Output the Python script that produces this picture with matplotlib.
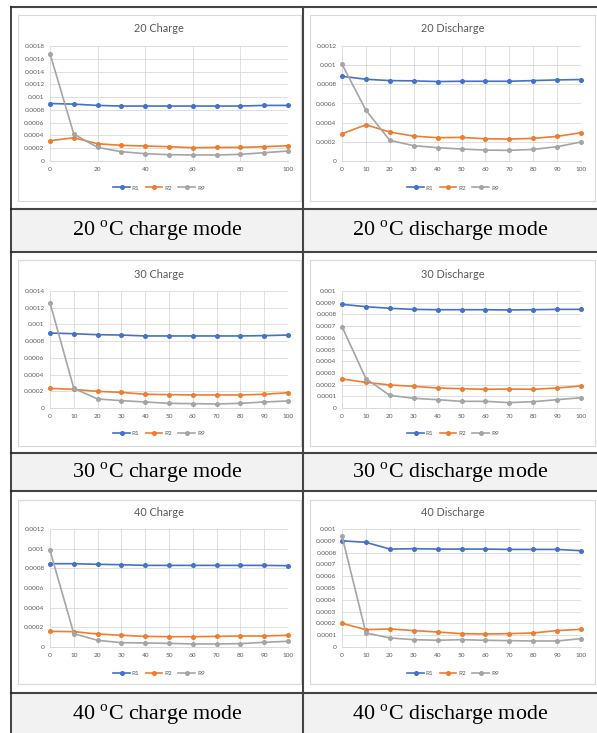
import matplotlib
matplotlib.use('Agg')
import matplotlib.pyplot as plt
from matplotlib.patches import Rectangle
from matplotlib.ticker import MultipleLocator, FuncFormatter

plt.rcParams['font.family'] = ['Lato', 'DejaVu Sans']
plt.rcParams['mathtext.fontset'] = 'custom'
plt.rcParams['mathtext.rm'] = 'Liberation Serif'

W, H = 597, 733

# state of charge (%) on the x axis
soc = [0, 10, 20, 30, 40, 50, 60, 70, 80, 90, 100]

# values, one list per series and panel
r1_20c = [0.00090, 0.00089, 0.00087, 0.00086, 0.00086, 0.00086, 0.00086, 0.00086, 0.00086, 0.00087, 0.00087]
r2_20c = [0.000317, 0.000364, 0.00027, 0.000245, 0.000234, 0.000224, 0.000208, 0.000213, 0.000213, 0.000224, 0.000239]
r9_20c = [0.00168, 0.000421, 0.000213, 0.000146, 0.000114, 0.000099, 0.000094, 0.000094, 0.000104, 0.00013, 0.000156]

r1_20d = [0.000884, 0.000853, 0.000839, 0.000836, 0.000829, 0.000832, 0.000832, 0.000832, 0.000839, 0.000846, 0.00085]
r2_20d = [0.000284, 0.000378, 0.000302, 0.00026, 0.000243, 0.000246, 0.000232, 0.000229, 0.000236, 0.000257, 0.000295]
r9_20d = [0.00101, 0.000531, 0.000215, 0.00016, 0.000139, 0.000125, 0.000114, 0.000111, 0.000121, 0.000149, 0.000198]

r1_30c = [0.000897, 0.000889, 0.000877, 0.000873, 0.000862, 0.000862, 0.000862, 0.000862, 0.000862, 0.000866, 0.000873]
r2_30c = [0.000235, 0.000223, 0.000199, 0.000187, 0.000164, 0.00016, 0.000156, 0.000156, 0.000156, 0.000164, 0.000183]
r9_30c = [0.00126, 0.000235, 0.000108, 0.000088, 0.000072, 0.000056, 0.000052, 0.000048, 0.000056, 0.000072, 0.000084]

r1_30d = [0.000886, 0.000866, 0.000852, 0.000843, 0.00084, 0.00084, 0.00084, 0.000838, 0.00084, 0.000843, 0.000843]
r2_30d = [0.000248, 0.000219, 0.000197, 0.000185, 0.000171, 0.000165, 0.00016, 0.000162, 0.00016, 0.000171, 0.000188]
r9_30d = [0.000695, 0.000251, 0.000108, 0.000083, 0.000071, 0.000057, 0.000057, 0.000046, 0.000054, 0.000071, 0.000088]

r1_40c = [0.000847, 0.000847, 0.000841, 0.000837, 0.00083, 0.00083, 0.00083, 0.00083, 0.00083, 0.00083, 0.000827]
r2_40c = [0.000159, 0.000156, 0.000132, 0.000119, 0.000108, 0.000105, 0.000105, 0.000108, 0.000112, 0.000112, 0.000119]
r9_40c = [0.000983, 0.000136, 0.000068, 0.000044, 0.000041, 0.000037, 0.000031, 0.000031, 0.000034, 0.000048, 0.000058]

r1_40d = [0.0009, 0.000887, 0.00083, 0.000833, 0.00083, 0.00083, 0.00083, 0.000827, 0.000827, 0.000827, 0.000816]
r2_40d = [0.000201, 0.000147, 0.000153, 0.000139, 0.000127, 0.000113, 0.00011, 0.000113, 0.000119, 0.000139, 0.00015]
r9_40d = [0.00094, 0.000119, 0.000077, 0.000062, 0.000057, 0.000062, 0.000057, 0.000054, 0.000051, 0.000051, 0.000071]

titles = ['20 Charge', '20 Discharge', '30 Charge', '30 Discharge', '40 Charge', '40 Discharge']
captions = ['20 $^{\\rm o}$C charge mode', '20 $^{\\rm o}$C discharge mode',
            '30 $^{\\rm o}$C charge mode', '30 $^{\\rm o}$C discharge mode',
            '40 $^{\\rm o}$C charge mode', '40 $^{\\rm o}$C discharge mode']
series = [(r1_20c, r2_20c, r9_20c), (r1_20d, r2_20d, r9_20d),
          (r1_30c, r2_30c, r9_30c), (r1_30d, r2_30d, r9_30d),
          (r1_40c, r2_40c, r9_40c), (r1_40d, r2_40d, r9_40d)]
y_max = [0.0018, 0.0012, 0.0014, 0.001, 0.0012, 0.001]
y_step = [0.0002, 0.0002, 0.0002, 0.0001, 0.0002, 0.0001]
x_step = [20, 10, 10, 10, 10, 10]
names = ['R1', 'R2', 'R9']
colors = ['#4472C4', '#ED7D31', '#A5A5A5']

# ---- layout (pixels) ----
col_plot_x = [(50, 288), (342, 581)]
col_box_x = [(18, 301), (310, 595)]
col_center = [159, 453]
cap_center = [157, 450]
row_plot_y = [(46, 161), (291, 408), (529, 647)]
row_box_y = [(15, 201), (260, 446), (500, 684)]
row_title_y = [29, 274, 513]
row_legend_y = [188, 433, 673]
row_caption_y = [231, 473, 715]
cap_bands = [(209, 252), (453, 491), (693, 740)]

fig = plt.figure(figsize=(W / 100, H / 100), dpi=100)
fig.patch.set_facecolor('white')

# table background + frame
bg = fig.add_axes([0, 0, 1, 1])
bg.set_xlim(0, W)
bg.set_ylim(H, 0)
bg.axis('off')
for y0, y1 in cap_bands:
    bg.add_patch(Rectangle((10.5, y0), W, y1 - y0, facecolor='#f1f2f1', edgecolor='none'))
for r in range(3):
    for c in range(2):
        x0, x1 = col_box_x[c]
        y0, y1 = row_box_y[r]
        bg.add_patch(Rectangle((x0, y0), x1 - x0, y1 - y0, facecolor='white',
                               edgecolor='#d9d9d9', linewidth=0.8))
line_kw = dict(color='#444444', linewidth=1.5)
bg.plot([10.5, W], [7, 7], **line_kw)
for y0, y1 in cap_bands:
    bg.plot([10.5, W], [y0, y0], **line_kw)
    if y1 < H:
        bg.plot([10.5, W], [y1, y1], **line_kw)
bg.plot([10.5, 10.5], [7, H], color='#222222', linewidth=1.2)
bg.plot([303, 303], [7, H], **line_kw)


def fmt(v, pos):
    return f"{round(v, 6):g}"


for i in range(6):
    r, c = divmod(i, 2)
    x0, x1 = col_plot_x[c]
    y0, y1 = row_plot_y[r]
    ax = fig.add_axes([x0 / W, 1 - y1 / H, (x1 - x0) / W, (y1 - y0) / H])
    ax.patch.set_alpha(0)
    for vals, name, col in zip(series[i], names, colors):
        ax.plot(soc, vals, color=col, linewidth=1.2, marker='o', markersize=2.6,
                label=name, clip_on=False, zorder=3)
    ax.set_xlim(0, 100)
    ax.set_ylim(0, y_max[i])
    ax.xaxis.set_major_locator(MultipleLocator(x_step[i]))
    ax.yaxis.set_major_locator(MultipleLocator(y_step[i]))
    ax.yaxis.set_major_formatter(FuncFormatter(fmt))
    ax.grid(True, color='#d9d9d9', linewidth=0.6)
    ax.set_axisbelow(True)
    for s in ['top', 'right', 'left']:
        ax.spines[s].set_visible(False)
    ax.spines['bottom'].set_color('#d9d9d9')
    ax.spines['bottom'].set_linewidth(0.7)
    ax.tick_params(length=0, labelsize=4.6, labelcolor='#595959', pad=4)
    fig.text(col_center[c] / W, 1 - row_title_y[r] / H, titles[i], ha='center', va='center',
             fontsize=7.8, color='#595959')
    ax.legend(loc='center', bbox_to_anchor=(col_center[c] / W, 1 - row_legend_y[r] / H),
              bbox_transform=fig.transFigure, ncol=3, frameon=False, fontsize=4.6,
              labelcolor='#595959', handlelength=2.6, handletextpad=0.3, columnspacing=1.0)
    fig.text(cap_center[c] / W, 1 - row_caption_y[r] / H, captions[i], ha='center', va='center',
             fontsize=15.8, family='Liberation Serif', color='black')

fig.savefig('out.png', dpi=100)
